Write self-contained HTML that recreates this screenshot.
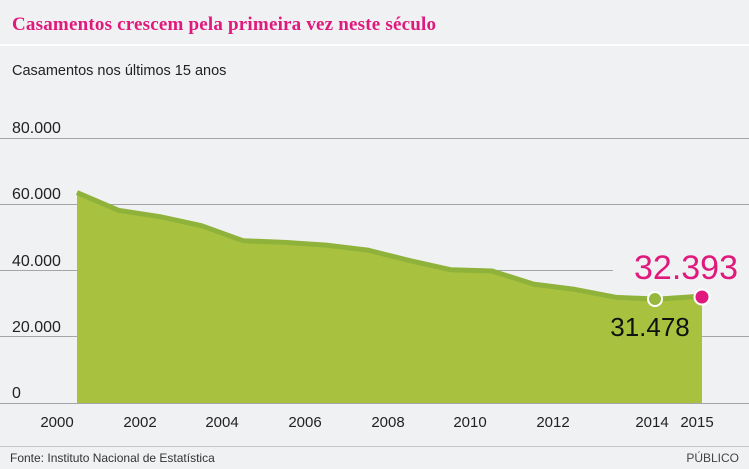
<!DOCTYPE html>
<html><head><meta charset="utf-8"><style>
html,body{margin:0;padding:0;background:#f0f1f3;}
body{width:749px;height:469px;overflow:hidden;position:relative;font-family:"Liberation Sans",sans-serif;}
</style></head><body>
<svg width="749" height="469" viewBox="0 0 749 469" xmlns="http://www.w3.org/2000/svg" style="position:absolute;left:0;top:0">
<rect width="749" height="469" fill="#f0f1f3"/>
<text x="12" y="30" font-family="Liberation Serif,serif" font-weight="bold" font-size="19" letter-spacing="0.2" fill="#e0197d">Casamentos crescem pela primeira vez neste século</text>
<rect x="0" y="44" width="749" height="2" fill="#ffffff"/>
<text x="12" y="75" font-size="14.5" fill="#222">Casamentos nos últimos 15 anos</text>
<g stroke="#a5a5a8" stroke-width="1">
<line x1="0" y1="138.5" x2="749" y2="138.5"/>
<line x1="0" y1="204.5" x2="749" y2="204.5"/>
<line x1="0" y1="270.5" x2="613" y2="270.5"/>
<line x1="0" y1="336.5" x2="749" y2="336.5"/>
<line x1="0" y1="403.5" x2="749" y2="403.5"/>
</g>
<g font-size="16" fill="#222">
<text x="12" y="133">80.000</text>
<text x="12" y="199">60.000</text>
<text x="12" y="266">40.000</text>
<text x="12" y="332">20.000</text>
<text x="12" y="398">0</text>
</g>
<polygon fill="#a8c240" points="77,403 77,192.6 118.5,210.3 160,216.7 201.5,225.7 243,240.7 284.5,242.4 326,245.1 367.5,250.1 409,260.4 450.5,269.7 492,271 533.5,284.1 575,289.4 616.5,297.4 658,299.1 702,296.1 702,403"/>
<polyline fill="none" stroke="#8fb23a" stroke-width="5" stroke-linejoin="round" points="77,192.6 118.5,210.3 160,216.7 201.5,225.7 243,240.7 284.5,242.4 326,245.1 367.5,250.1 409,260.4 450.5,269.7 492,271 533.5,284.1 575,289.4 616.5,297.4 658,299.1 702,296.1"/>
<circle cx="655" cy="299" r="7" fill="#96b83c" stroke="#fff" stroke-width="2"/>
<circle cx="702" cy="297" r="7.5" fill="#e0197d" stroke="#fff" stroke-width="2"/>
<text x="650" y="336" font-size="26" fill="#111" text-anchor="middle">31.478</text>
<text x="686" y="279" font-size="34" fill="#e0197d" text-anchor="middle">32.393</text>
<g font-size="15" fill="#222" text-anchor="middle">
<text x="57" y="427">2000</text>
<text x="140" y="427">2002</text>
<text x="222" y="427">2004</text>
<text x="305" y="427">2006</text>
<text x="388" y="427">2008</text>
<text x="470" y="427">2010</text>
<text x="553" y="427">2012</text>
<text x="652" y="427">2014</text>
<text x="697" y="427">2015</text>
</g>
<line x1="0" y1="446.5" x2="749" y2="446.5" stroke="#c8c8cc" stroke-width="1"/>
<text x="10" y="462" font-size="12" fill="#333">Fonte: Instituto Nacional de Estatística</text>
<text x="739" y="462" font-size="12" fill="#444" text-anchor="end">PÚBLICO</text>
</svg>
</body></html>
